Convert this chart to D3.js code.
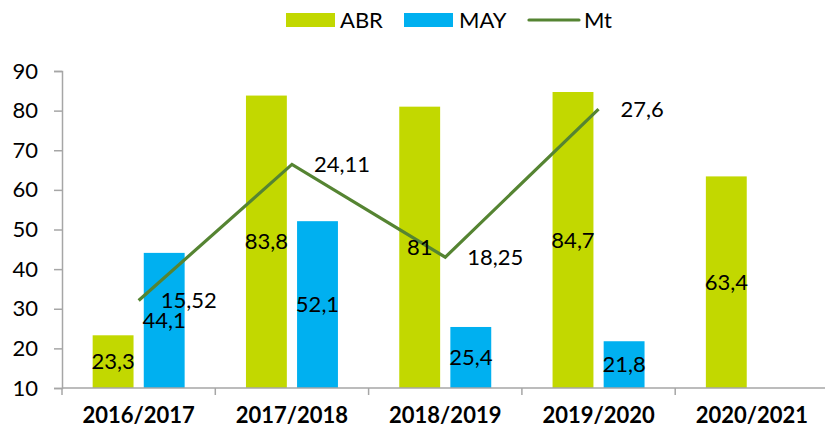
<!DOCTYPE html>
<html>
<head>
<meta charset="utf-8">
<script src="https://cdn.jsdelivr.net/npm/d3@7"></script>
<style>
  body { margin: 0; background: #fff; }
  svg { display: block; font-family: Lato, "Open Sans", sans-serif; }
</style>
</head>
<body>
<div id="graph"></div>
<script>
      // chart data
      var categories = ["2016/2017", "2017/2018", "2018/2019", "2019/2020", "2020/2021"];
      var abr = [23.3, 83.8, 81, 84.7, 63.4];
      var may = [44.1, 52.1, 25.4, 21.8, null];
      var mt = [15.52, 24.11, 18.25, 27.6];
      var yTicks = [10, 20, 30, 40, 50, 60, 70, 80, 90];

      var w = 825, h = 434;
      // plot edges (note: "top" is reserved on window, so use other names)
      var plotLeft = 62, plotRight = 828.5, plotTop = 71, plotBottom = 388;

      var colABR = "#c2d800", colMAY = "#00b0f0", colMt = "#558432", axisCol = "#a6a6a6";
      var labelSize = "22px";

      var fmt = function(v){ return String(v).replace(".", ","); };

      var svg = d3.select("#graph").append("svg")
                  .attr("width", w)
                  .attr("height", h);

      // band for each year, then sub band for the two bar series
      var x0 = d3.scaleBand().domain(categories).range([plotLeft, plotRight]);
      var x1 = d3.scaleBand().domain(["ABR", "MAY"])
                  .range([0, x0.bandwidth()])
                  .paddingInner(0.2)
                  .paddingOuter(0.6);

      var y = d3.scaleLinear().domain([10, 90]).range([plotBottom, plotTop]);
      // Mt is drawn on a hidden second axis
      var y2 = d3.scaleLinear().domain([10, 30]).range([plotBottom, plotTop]);

      // y axis
      var yAxis = svg.append("g")
          .attr("transform", "translate(" + plotLeft + ",0)")
          .call(d3.axisLeft(y).tickValues(yTicks).tickSize(8).tickPadding(16));
      yAxis.select(".domain").attr("stroke", axisCol).attr("stroke-width", 1.5);
      yAxis.selectAll(".tick line").attr("stroke", axisCol).attr("stroke-width", 1.5);
      yAxis.selectAll("text")
          .attr("font-family", "Lato, sans-serif")
          .attr("font-size", labelSize)
          .attr("fill", "#000");

      // bars
      var series = [{key: "ABR", vals: abr, col: colABR}, {key: "MAY", vals: may, col: colMAY}];
      series.forEach(function(s){
        var data = s.vals.map(function(v, i){ return {cat: categories[i], v: v}; })
                         .filter(function(d){ return d.v != null; });
        svg.append("g").selectAll("rect")
            .data(data)
            .enter()
            .append("rect")
            .attr("x", function(d){ return x0(d.cat) + x1(s.key); })
            .attr("y", function(d){ return y(d.v); })
            .attr("width", x1.bandwidth())
            .attr("height", function(d){ return y(10) - y(d.v); })
            .attr("fill", s.col);
      });

      // x axis drawn after bars so the line sits on top
      var xAxis = svg.append("g")
          .attr("transform", "translate(0," + plotBottom + ")");
      xAxis.append("line")
          .attr("x1", plotLeft).attr("x2", plotRight)
          .attr("stroke", axisCol).attr("stroke-width", 1.5);
      xAxis.selectAll(".tk")
          .data(categories)
          .enter()
          .append("line")
          .attr("x1", function(d){ return x0(d); })
          .attr("x2", function(d){ return x0(d); })
          .attr("y1", 0).attr("y2", 7)
          .attr("stroke", axisCol).attr("stroke-width", 1.5);
      xAxis.selectAll("text")
          .data(categories)
          .enter()
          .append("text")
          .text(function(d){ return d; })
          .attr("x", function(d){ return x0(d) + x0.bandwidth() / 2; })
          .attr("y", 35)
          .attr("text-anchor", "middle")
          .attr("font-size", "22px")
          .attr("font-weight", "bold")
          .attr("fill", "#000");

      // Mt line
      var line = d3.line()
          .x(function(d, i){ return x0(categories[i]) + x0.bandwidth() / 2; })
          .y(function(d){ return y2(d); });
      svg.append("path")
          .datum(mt)
          .attr("d", line)
          .attr("fill", "none")
          .attr("stroke", colMt)
          .attr("stroke-width", 3.2);

      // bar labels, centred in the bar
      series.forEach(function(s){
        var data = s.vals.map(function(v, i){ return {cat: categories[i], v: v}; })
                         .filter(function(d){ return d.v != null; });
        svg.append("g").selectAll("text")
            .data(data)
            .enter()
            .append("text")
            .text(function(d){ return fmt(d.v); })
            .attr("x", function(d){ return x0(d.cat) + x1(s.key) + x1.bandwidth() / 2; })
            .attr("y", function(d){ return (y(d.v) + y(10)) / 2; })
            .attr("dy", "0.35em")
            .attr("text-anchor", "middle")
            .attr("font-size", labelSize)
            .attr("fill", "#000");
      });

      // Mt labels, right of each point
      svg.append("g").selectAll("text")
          .data(mt)
          .enter()
          .append("text")
          .text(function(d){ return fmt(d); })
          .attr("x", function(d, i){ return x0(categories[i]) + x0.bandwidth() / 2 + 22; })
          .attr("y", function(d){ return y2(d); })
          .attr("dy", "0.35em")
          .attr("font-size", labelSize)
          .attr("fill", "#000");

      // legend
      var legend = svg.append("g");
      legend.append("rect").attr("x", 286).attr("y", 13).attr("width", 49).attr("height", 14).attr("fill", colABR);
      legend.append("text").text("ABR").attr("x", 340).attr("y", 20).attr("dy", "0.35em")
            .attr("font-size", labelSize).attr("fill", "#000");
      legend.append("rect").attr("x", 404).attr("y", 13).attr("width", 49).attr("height", 14).attr("fill", colMAY);
      legend.append("text").text("MAY").attr("x", 459).attr("y", 20).attr("dy", "0.35em")
            .attr("font-size", labelSize).attr("fill", "#000");
      legend.append("line").attr("x1", 529).attr("x2", 579).attr("y1", 20).attr("y2", 20)
            .attr("stroke", colMt).attr("stroke-width", 3.2).attr("stroke-linecap", "round");
      legend.append("text").text("Mt").attr("x", 584).attr("y", 20).attr("dy", "0.35em")
            .attr("font-size", labelSize).attr("fill", "#000");
</script>
</body>
</html>
